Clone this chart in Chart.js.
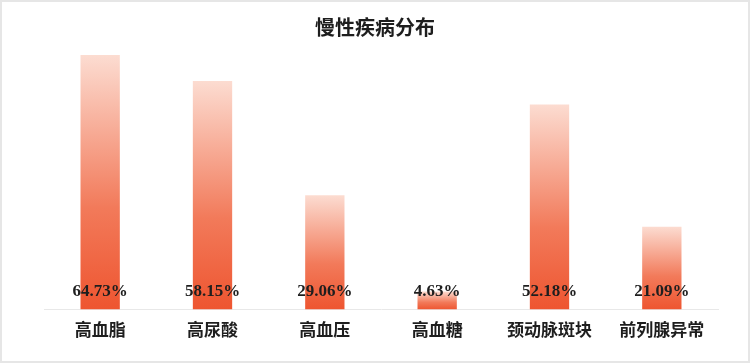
<!DOCTYPE html>
<html>
<head>
<meta charset="utf-8">
<script src="https://cdn.jsdelivr.net/npm/chart.js@4"></script>
<style>
  html, body { margin: 0; padding: 0; background: #fff; }
  #wrap { position: relative; width: 750px; height: 363px; }
  #frame { position: absolute; left: 0; top: 0; width: 750px; height: 363px;
           box-sizing: border-box; border: 2px solid #e6e6e6; pointer-events: none; }
</style>
</head>
<body>
<div id="wrap">
  <canvas id="chart" width="750" height="363"></canvas>
  <div id="frame"></div>
</div>
<script>
const title = "慢性疾病分布";
const categories = ["高血脂", "高尿酸", "高血压", "高血糖", "颈动脉斑块", "前列腺异常"];
const values = [64.73, 58.15, 29.06, 4.63, 52.18, 21.09];

function barGradient(context)
{
    const chart = context.chart;
    const y = chart.scales.y;
    if(!chart.chartArea || !y) return "#ee5a35";
    const v = context.raw;
    const top = y.getPixelForValue(v);
    const bottom = y.getPixelForValue(0);
    const g = chart.ctx.createLinearGradient(0, top, 0, bottom);
    g.addColorStop(0, "#fcdcd1");
    g.addColorStop(0.6, "#f27a5a");
    g.addColorStop(1, "#ee5530");
    return g;
}

// title centred on the whole canvas, value labels at the foot of each bar
const textPlugin = {
    id: "textPlugin",
    afterDatasetsDraw(chart)
    {
        const ctx = chart.ctx;
        const meta = chart.getDatasetMeta(0);
        ctx.save();
        ctx.textAlign = "center";
        ctx.textBaseline = "middle";
        ctx.fillStyle = "#1e1e1e";
        ctx.font = "bold 20px 'Noto Sans CJK SC', sans-serif";
        ctx.fillText(title, chart.width / 2, 27);
        ctx.font = "bold 17px 'Liberation Serif', 'Times New Roman', serif";
        meta.data.forEach((bar, i) => {
            ctx.fillText(values[i].toFixed(2) + "%", bar.x, bar.base - 18);
        });
        ctx.restore();
    }
};

const chart = new Chart(document.getElementById("chart"), {
    type: "bar",
    data: {
        labels: categories,
        datasets: [{
            data: values,
            backgroundColor: barGradient,
            barPercentage: 0.35,
            categoryPercentage: 1
        }]
    },
    options: {
        responsive: false,
        animation: false,
        layout: { padding: { left: 44, right: 32, top: 41, bottom: 13 } },
        plugins: {
            legend: { display: false },
            tooltip: { enabled: false },
            title: { display: false }
        },
        scales: {
            x: {
                grid: { display: false, drawTicks: false },
                border: { display: true, color: "#e8e8e8", width: 1 },
                ticks: {
                    color: "#1e1e1e",
                    padding: 10,
                    font: { family: "'Noto Sans CJK SC', sans-serif", size: 17, weight: "bold", lineHeight: 1.2 }
                }
            },
            y: {
                display: false,
                min: 0,
                max: 68.3
            }
        }
    },
    plugins: [textPlugin]
});
</script>
</body>
</html>
